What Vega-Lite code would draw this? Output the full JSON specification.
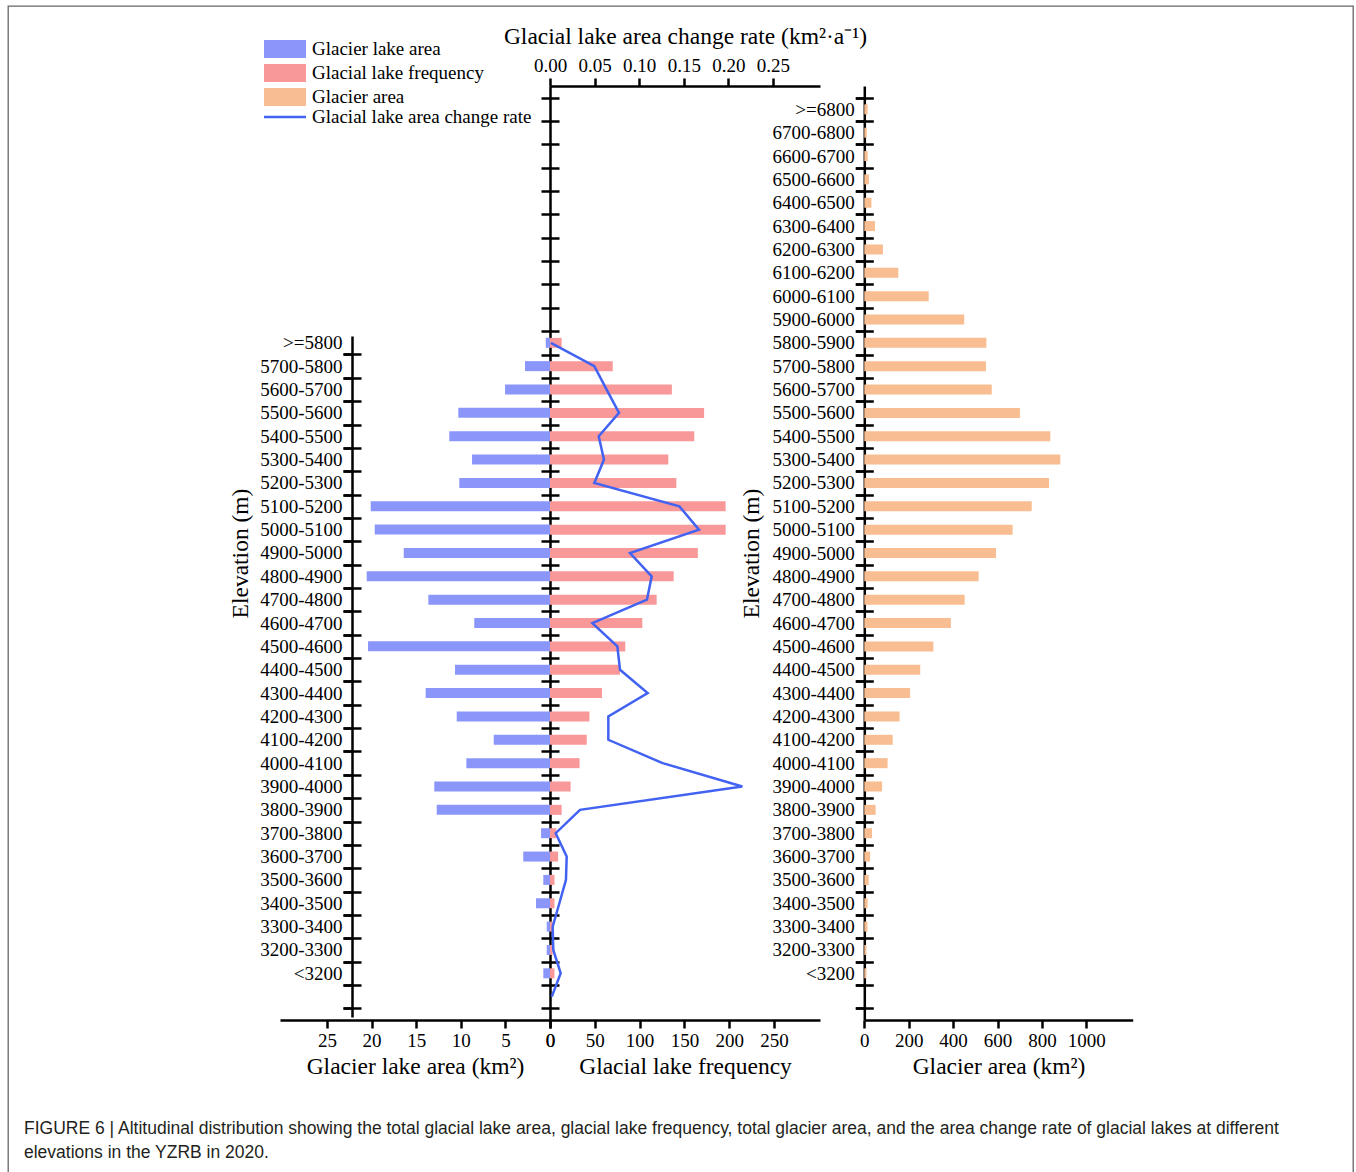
{
  "$schema": "https://vega.github.io/schema/vega-lite/v6.json",
  "width": 1345,
  "height": 1166,
  "autosize": {"type": "none"},
  "padding": {"left": 8, "top": 6, "right": 3, "bottom": 0},
  "background": "white",
  "config": {
    "view": {"stroke": "#666666", "strokeWidth": 1.3, "strokeDash": [2511, 1345, 1166, 0]},
    "font": "Liberation Serif",
    "axis": {
      "labelFont": "Liberation Serif", "labelFontSize": 19, "labelColor": "#000",
      "titleFont": "Liberation Serif", "titleFontSize": 23.5, "titleFontWeight": "normal", "titleColor": "#000",
      "domainColor": "#000", "domainWidth": 2.5, "tickColor": "#000", "tickWidth": 2.5,
      "grid": false, "labelOverlap": false, "labelFlush": false, "labelBound": false
    },
    "legend": {"labelFont": "Liberation Serif", "labelFontSize": 19, "labelColor": "#000", "padding": 0, "labelLimit": 0}
  },
  "title": {
    "text": ["FIGURE 6 | Altitudinal distribution showing the total glacial lake area, glacial lake frequency, total glacier area, and the area change rate of glacial lakes at different", "elevations in the YZRB in 2020."],
    "orient": "bottom", "anchor": "start", "frame": "group", "offset": -52, "dx": 16,
    "font": "Liberation Sans", "fontSize": 17.5, "fontWeight": "normal", "color": "#231f20", "lineHeight": 24.3, "baseline": "top"
  },
  "data": {"values": [
    {"band": ">=6800", "elev": 6850, "glacier_area": 15},
    {"band": "6700-6800", "elev": 6750, "glacier_area": 11},
    {"band": "6600-6700", "elev": 6650, "glacier_area": 15},
    {"band": "6500-6600", "elev": 6550, "glacier_area": 21},
    {"band": "6400-6500", "elev": 6450, "glacier_area": 32},
    {"band": "6300-6400", "elev": 6350, "glacier_area": 48},
    {"band": "6200-6300", "elev": 6250, "glacier_area": 84},
    {"band": "6100-6200", "elev": 6150, "glacier_area": 153},
    {"band": "6000-6100", "elev": 6050, "glacier_area": 290},
    {"band": "5900-6000", "elev": 5950, "glacier_area": 450},
    {"band": "5800-5900", "lake_band": ">=5800", "elev": 5850, "lake_area": 0.48, "lake_count": 13, "rate": 0.001, "glacier_area": 550},
    {"band": "5700-5800", "elev": 5750, "lake_area": 2.8, "lake_count": 70, "rate": 0.0497, "glacier_area": 548},
    {"band": "5600-5700", "elev": 5650, "lake_area": 5.04, "lake_count": 136, "rate": 0.0635, "glacier_area": 574},
    {"band": "5500-5600", "elev": 5550, "lake_area": 10.28, "lake_count": 172, "rate": 0.0774, "glacier_area": 701},
    {"band": "5400-5500", "elev": 5450, "lake_area": 11.29, "lake_count": 161, "rate": 0.0546, "glacier_area": 838},
    {"band": "5300-5400", "elev": 5350, "lake_area": 8.74, "lake_count": 132, "rate": 0.0605, "glacier_area": 883},
    {"band": "5200-5300", "elev": 5250, "lake_area": 10.17, "lake_count": 141, "rate": 0.0497, "glacier_area": 832},
    {"band": "5100-5200", "elev": 5150, "lake_area": 20.1, "lake_count": 196, "rate": 0.145, "glacier_area": 754},
    {"band": "5000-5100", "elev": 5050, "lake_area": 19.65, "lake_count": 196, "rate": 0.167, "glacier_area": 668},
    {"band": "4900-5000", "elev": 4950, "lake_area": 16.4, "lake_count": 165, "rate": 0.0897, "glacier_area": 593},
    {"band": "4800-4900", "elev": 4850, "lake_area": 20.55, "lake_count": 138, "rate": 0.114, "glacier_area": 515},
    {"band": "4700-4800", "elev": 4750, "lake_area": 13.64, "lake_count": 119, "rate": 0.1087, "glacier_area": 452},
    {"band": "4600-4700", "elev": 4650, "lake_area": 8.49, "lake_count": 103, "rate": 0.0475, "glacier_area": 390},
    {"band": "4500-4600", "elev": 4550, "lake_area": 20.4, "lake_count": 84, "rate": 0.0755, "glacier_area": 311},
    {"band": "4400-4500", "elev": 4450, "lake_area": 10.65, "lake_count": 78, "rate": 0.0785, "glacier_area": 252},
    {"band": "4300-4400", "elev": 4350, "lake_area": 13.94, "lake_count": 58, "rate": 0.1095, "glacier_area": 206},
    {"band": "4200-4300", "elev": 4250, "lake_area": 10.46, "lake_count": 44, "rate": 0.0654, "glacier_area": 159},
    {"band": "4100-4200", "elev": 4150, "lake_area": 6.31, "lake_count": 41, "rate": 0.0654, "glacier_area": 128},
    {"band": "4000-4100", "elev": 4050, "lake_area": 9.38, "lake_count": 33, "rate": 0.1263, "glacier_area": 105},
    {"band": "3900-4000", "elev": 3950, "lake_area": 12.97, "lake_count": 23, "rate": 0.2156, "glacier_area": 80},
    {"band": "3800-3900", "elev": 3850, "lake_area": 12.7, "lake_count": 13, "rate": 0.0336, "glacier_area": 51},
    {"band": "3700-3800", "elev": 3750, "lake_area": 1.0, "lake_count": 7, "rate": 0.0064, "glacier_area": 35},
    {"band": "3600-3700", "elev": 3650, "lake_area": 3.0, "lake_count": 9, "rate": 0.0187, "glacier_area": 26},
    {"band": "3500-3600", "elev": 3550, "lake_area": 0.75, "lake_count": 5, "rate": 0.0179, "glacier_area": 20},
    {"band": "3400-3500", "elev": 3450, "lake_area": 1.57, "lake_count": 5, "rate": 0.0105, "glacier_area": 15},
    {"band": "3300-3400", "elev": 3350, "lake_area": 0.37, "lake_count": 3, "rate": 0.003, "glacier_area": 14},
    {"band": "3200-3300", "elev": 3250, "lake_area": 0.37, "lake_count": 3, "rate": 0.0037, "glacier_area": 9},
    {"band": "<3200", "elev": 3150, "lake_area": 0.75, "lake_count": 5, "rate": 0.012, "glacier_area": 9},
    {"band": "", "elev": 3050, "rate": 0.002}
  ]},
  "layer": [
    {
      "mark": {"type": "bar", "orient": "horizontal", "height": 10},
      "encoding": {
        "y": {"field": "elev", "type": "quantitative",
          "scale": {"domain": [2963, 5879], "range": [1011, 330], "nice": false, "zero": false, "padding": 0},
          "axis": {"orient": "left", "offset": -344, "values": [3000,3100,3200,3300,3400,3500,3600,3700,3800,3900,4000,4100,4200,4300,4400,4500,4600,4700,4800,4900,5000,5100,5200,5300,5400,5500,5600,5700,5800],
            "tickSize": 9, "labelPadding": 1, "labelOffset": -11.675,
            "labelExpr": "datum.value == 5800 ? '>=5800' : datum.value == 3100 ? '<3200' : datum.value == 3000 ? '' : datum.value + '-' + (datum.value + 100)",
            "title": "Elevation (m)", "titleX": -100, "titleY": 547}},
        "x": {"field": "lake_area", "type": "quantitative",
          "scale": {"domain": [0, 30.27], "range": [542, 272], "nice": false, "padding": 0},
          "axis": {"orient": "bottom", "offset": -152, "values": [0,5,10,15,20,25], "tickSize": 8, "labelPadding": 3, "title": "Glacier lake area (km²)", "titlePadding": 4}},
        "fill": {"datum": "Glacier lake area", "type": "nominal",
          "scale": {"domain": ["Glacier lake area", "Glacial lake frequency", "Glacier area"], "range": ["#8a96fa", "#f89898", "#f8bd90"]},
          "legend": {"orient": "none", "legendX": 267.5, "legendY": 33.5, "title": null,
            "symbolType": "M-2.333,-1H2.333V1H-2.333Z", "symbolSize": 324, "symbolStrokeWidth": 0,
            "labelOffset": 17.5, "rowPadding": 4, "symbolOpacity": 1, "labelLimit": 0}}
      }
    },
    {
      "mark": {"type": "bar", "orient": "horizontal", "height": 10, "opacity": 0},
      "encoding": {
        "y": {"field": "elev", "type": "quantitative",
          "scale": {"domain": [2963, 5879], "range": [1011, 330], "nice": false, "zero": false, "padding": 0},
          "axis": {"orient": "left", "offset": -353, "values": [3000,3100,3200,3300,3400,3500,3600,3700,3800,3900,4000,4100,4200,4300,4400,4500,4600,4700,4800,4900,5000,5100,5200,5300,5400,5500,5600,5700,5800],
            "tickSize": 18, "domain": false, "labels": false, "title": null}},
        "x": {"field": "lake_area", "type": "quantitative",
          "scale": {"domain": [0, 30.27], "range": [542, 272], "nice": false, "padding": 0}, "axis": null}
      }
    },
    {
      "mark": {"type": "bar", "orient": "horizontal", "height": 10},
      "encoding": {
        "y": {"field": "elev", "type": "quantitative",
          "scale": {"domain": [2950, 6950], "range": [1014, 80], "nice": false, "zero": false, "padding": 0},
          "axis": {"orient": "left", "offset": -542, "ticks": false, "labels": false, "title": null, "values": [3000]}},
        "x": {"field": "lake_count", "type": "quantitative",
          "scale": {"domain": [0, 301.3], "range": [542, 812], "nice": false, "padding": 0},
          "axis": {"orient": "bottom", "offset": -152, "values": [0,50,100,150,200,250], "tickSize": 8, "labelPadding": 3, "title": "Glacial lake frequency", "titlePadding": 4}},
        "fill": {"datum": "Glacial lake frequency", "type": "nominal"}
      }
    },
    {
      "mark": {"type": "line", "strokeWidth": 2.5},
      "encoding": {
        "y": {"field": "elev", "type": "quantitative",
          "scale": {"domain": [2950, 6950], "range": [1014, 80], "nice": false, "zero": false, "padding": 0},
          "axis": {"orient": "left", "offset": -551, "values": [3000,3100,3200,3300,3400,3500,3600,3700,3800,3900,4000,4100,4200,4300,4400,4500,4600,4700,4800,4900,5000,5100,5200,5300,5400,5500,5600,5700,5800,5900,6000,6100,6200,6300,6400,6500,6600,6700,6800,6900],
            "tickSize": 18, "domain": false, "labels": false, "title": null}},
        "x": {"field": "rate", "type": "quantitative",
          "scale": {"domain": [0, 0.3027], "range": [542, 812], "nice": false, "padding": 0},
          "axis": {"orient": "top", "offset": -80, "values": [0,0.05,0.1,0.15,0.2,0.25], "format": ".2f", "tickSize": 8, "labelPadding": 3, "title": "Glacial lake area change rate (km²·a⁻¹)", "titlePadding": 8}},
        "order": {"field": "elev", "type": "quantitative"},
        "stroke": {"datum": "Glacial lake area change rate", "type": "nominal",
          "scale": {"domain": ["Glacial lake area change rate"], "range": ["#4262f2"]},
          "legend": {"orient": "none", "legendX": 266.5, "legendY": 100.5, "title": null,
            "symbolType": "M-2.333,0H2.333", "symbolSize": 324, "symbolStrokeWidth": 2.5,
            "labelOffset": 16.5, "labelLimit": 0}}
      }
    },
    {
      "mark": {"type": "bar", "orient": "horizontal", "height": 10},
      "encoding": {
        "y": {"field": "elev", "type": "quantitative",
          "scale": {"domain": [2950, 6950], "range": [1014, 80], "nice": false, "zero": false, "padding": 0},
          "axis": {"orient": "left", "offset": -856.3, "values": [3000,3100,3200,3300,3400,3500,3600,3700,3800,3900,4000,4100,4200,4300,4400,4500,4600,4700,4800,4900,5000,5100,5200,5300,5400,5500,5600,5700,5800,5900,6000,6100,6200,6300,6400,6500,6600,6700,6800,6900],
            "tickSize": 9, "labelPadding": 1, "labelOffset": -11.675,
            "labelExpr": "datum.value == 6800 ? '>=6800' : datum.value == 3100 ? '<3200' : (datum.value == 3000 || datum.value == 6900) ? '' : datum.value + '-' + (datum.value + 100)",
            "title": "Elevation (m)", "titleX": -101, "titleY": 547}},
        "x": {"field": "glacier_area", "type": "quantitative",
          "scale": {"domain": [0, 1209], "range": [856.3, 1124.7], "nice": false, "padding": 0},
          "axis": {"orient": "bottom", "offset": -152, "values": [0,200,400,600,800,1000], "format": "d", "tickSize": 8, "labelPadding": 3, "title": "Glacier area (km²)", "titlePadding": 4}},
        "fill": {"datum": "Glacier area", "type": "nominal"}
      }
    },
    {
      "mark": {"type": "bar", "orient": "horizontal", "height": 10, "opacity": 0},
      "encoding": {
        "y": {"field": "elev", "type": "quantitative",
          "scale": {"domain": [2950, 6950], "range": [1014, 80], "nice": false, "zero": false, "padding": 0},
          "axis": {"orient": "left", "offset": -865.3, "values": [3000,3100,3200,3300,3400,3500,3600,3700,3800,3900,4000,4100,4200,4300,4400,4500,4600,4700,4800,4900,5000,5100,5200,5300,5400,5500,5600,5700,5800,5900,6000,6100,6200,6300,6400,6500,6600,6700,6800,6900],
            "tickSize": 18, "domain": false, "labels": false, "title": null}},
        "x": {"field": "glacier_area", "type": "quantitative",
          "scale": {"domain": [0, 1209], "range": [856.3, 1124.7], "nice": false, "padding": 0}, "axis": null}
      }
    }
  ],
  "resolve": {
    "scale": {"x": "independent", "y": "independent"},
    "axis": {"x": "independent", "y": "independent"}
  }
}
